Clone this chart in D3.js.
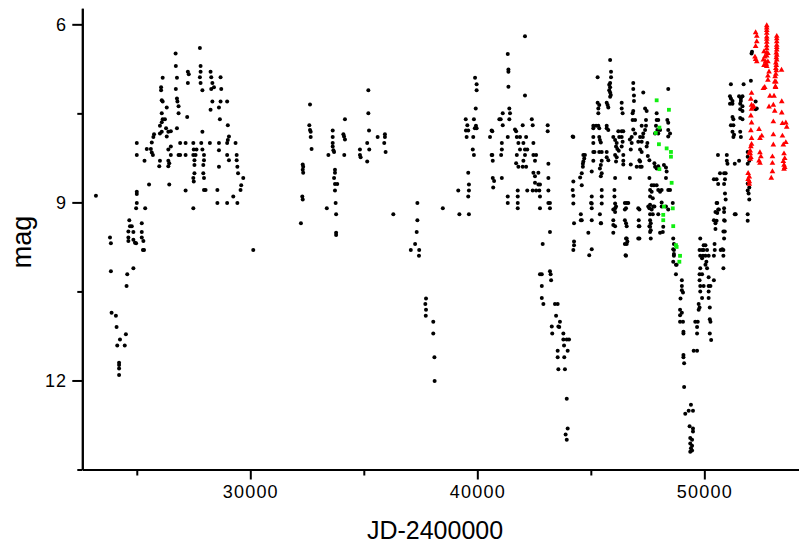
<!DOCTYPE html>
<html><head><meta charset="utf-8">
<script src="https://cdn.jsdelivr.net/npm/d3@7"></script>
<style>body{margin:0;background:#fff}svg{display:block}</style>
</head><body><svg id="c" width="799" height="548"></svg>
<script>
// ---- data: [JD-2400000, mag] ----
const blackPoints = [
[23200,8.89],
[25000,8.00],[25000,8.20],[25000,8.82],[25000,8.86],[25340,8.30],[25540,8.70],[25440,8.10],[25620,8.10],[25660,8.16],[25710,8.20],[25730,7.90],[25760,7.85],[25660,7.99],[25990,8.39],[26020,8.30],
[26140,6.90],[26070,7.06],[26070,7.11],[26100,7.28],[26140,7.30],[26320,7.40],[26100,7.50],[26140,7.60],[26100,7.65],[26240,7.60],[26020,7.71],[26100,7.81],[26290,7.75],[26020,7.84],[26320,7.89],[26390,7.81],[26500,7.80],[26500,8.06],[26500,8.20],[26390,8.11],[26390,8.30],[26430,8.34],[26390,8.39],[26430,8.70],
[26720,6.70],[26710,6.49],[26770,6.90],[26720,7.09],[26770,7.25],[26790,7.30],[26840,7.38],[26840,7.50],[26770,7.75],[26910,8.00],[26910,8.20],[26840,8.20],[27150,8.20],[27150,8.00],[27150,8.80],
[27250,6.80],[27290,6.84],[27250,6.99],[27220,7.56],
[27490,8.00],[27510,8.11],[27490,8.20],[27540,8.29],[27540,8.37],[27540,8.51],[27490,8.59],[27510,8.65],[27630,8.11],[27590,8.20],
[27780,6.40],[27810,6.70],[27810,6.80],[27780,6.89],[27810,6.99],[27890,7.11],[27890,7.81],[27840,8.00],[27890,8.11],[27960,8.20],[27960,8.29],[27930,8.37],[27930,8.51],[27960,8.59],[27960,8.79],[28030,8.79],
[28250,6.80],[28280,6.89],[28330,6.99],[28280,7.09],[28400,7.06],[28330,7.30],[28250,7.44],[28220,8.00],
[28620,7.40],[28690,7.30],[28690,6.89],[28720,7.09],[28660,7.60],[28620,8.00],[28620,8.12],[28620,8.40],[28550,8.79],
[28980,7.30],[29010,7.70],[29060,7.89],[29010,7.95],[28980,8.00],[28980,8.20],[29060,8.29],
[29350,8.00],[29400,8.20],[29400,8.29],[29430,8.40],[29460,8.51],[29600,8.71],[29570,8.79],[29690,8.59],[29250,8.90],
[25000,9.01],[24970,9.10],[25370,9.10],[27490,9.10],[28550,9.01],[28980,9.01],[29430,9.01],[30130,9.80],
[23820,9.59],[23860,9.69],[23860,10.16],[23890,10.86],[24080,10.91],[24110,11.10],[24520,11.22],[24260,11.31],[24140,11.41],[24470,11.41],[24220,11.70],[24220,11.74],[24220,11.80],[24220,11.91],
[24550,10.41],[24580,10.21],[24850,10.11],
[24670,9.30],[24700,9.40],[24630,9.49],[24850,9.50],[24630,9.59],[24630,9.65],[24850,9.63],[24920,9.68],[24970,9.69],[24780,9.40],
[25220,9.35],[25220,9.50],[25220,9.59],[25290,9.65],[25320,9.80],[25270,9.80],
[32630,7.35],[32600,7.70],[32630,7.78],[32660,7.81],[32660,7.90],[32700,8.10],
[32310,8.36],[32330,8.40],[32310,8.45],[32330,8.50],[32290,8.90],[32310,8.95],[32230,9.35],
[33370,9.10],[33780,9.20],[33780,9.51],[33780,9.55],
[33630,7.79],[33630,7.90],[33630,8.00],[33630,8.06],[33660,8.12],[33690,8.15],[33440,8.20],
[33730,8.45],[33730,8.50],[33690,8.59],[33730,8.69],[33830,8.69],[33730,8.80],[33760,9.01],
[34170,7.60],[34100,7.85],[34130,7.89],[34170,7.94],[34140,8.20],
[34830,8.11],[34830,8.20],[34860,8.24],
[35200,7.11],[35200,7.50],[35230,7.79],[35150,8.00],[35240,8.11],[35150,8.31],
[35610,7.90],[35930,7.85],[35930,7.90],[35900,8.00],[35960,8.15],
[36300,9.20],
[37360,9.01],[37360,9.30],[37330,9.50],[37260,9.70],[37070,9.80],[37440,9.80],[37430,9.90],
[37740,10.62],[37710,10.71],[37740,10.81],[37730,10.91],[38060,11.01],[38060,11.21],[38110,11.61],[38120,12.01],
[38480,9.10],
[39210,9.20],[39160,8.80],[39600,8.50],[39630,8.70],[39630,8.80],[39600,8.90],[39630,9.20],
[39490,7.60],[39560,7.70],[39500,7.79],[39600,7.79],[39530,7.90],
[39900,6.90],[39970,7.01],[39970,7.11],[39930,7.42],[39850,7.60],[39940,7.71],[39970,7.75],[39820,7.90],[39800,8.11],[39850,8.20],[39890,7.75],
[40630,7.79],[40560,7.90],[40630,8.20],[40680,8.30],[40680,8.59],[40740,8.64],[40700,8.75],[40970,7.60],
[41340,6.50],[41370,6.76],[41370,6.80],[41370,7.05],[42100,6.20],[42100,7.20],
[41410,7.42],[41120,7.50],[41440,7.50],[41030,7.60],[41410,7.60],[41120,7.70],[40660,7.80],[41340,7.90],[41080,8.00],[41080,8.11],[41050,8.20],[40660,8.20],[41080,8.59],
[41340,8.90],[41340,9.01],[41780,8.80],[41780,8.90],[41780,9.01],[41780,9.10],
[41660,7.77],[41710,7.80],[41740,7.90],[41880,7.90],[42150,7.90],[42000,7.70],[42400,7.60],[42440,7.70],
[41810,8.00],[42030,8.00],[42100,8.11],[41880,8.11],[42200,8.11],
[41740,8.20],[42100,8.20],[41710,8.34],[41810,8.40],[42000,8.40],[42150,8.40],[42030,8.30],
[42470,8.00],[42470,8.20],[42590,8.20],[42540,8.30],[42470,8.50],[42690,8.50],[42540,8.56],[42540,8.67],[42690,8.70],[42760,8.70],[42440,8.80],[42590,8.80],[42730,8.80],[42200,8.80],[42760,8.90],[42760,9.10],
[43100,7.70],[43100,7.80],[43130,8.35],[43130,8.59],[43130,8.80],[43130,9.01],[43200,9.01],[43200,9.10],[43200,9.50],[42880,9.70],
[42760,10.21],[42840,10.21],[43200,10.16],[43230,10.21],[43250,10.31],[42840,10.41],[42840,10.61],[42910,10.71],[43420,10.71],[43540,10.71],[43470,10.91],[43280,11.09],[43570,11.09],[43610,11.10],[43640,11.01],[43300,11.21],[43790,11.21],[43790,11.31],[43940,11.31],[44040,11.31],[43820,11.41],[43540,11.50],[43980,11.50],[43540,11.61],[43830,11.61],[43570,11.81],[43860,11.81],[43940,12.31],[43980,12.81],[43890,12.91],[43940,13.00],
[44200,7.89],[44230,7.90],
[45300,6.89],[45850,6.60],[45890,6.80],[45890,6.89],[45850,6.99],[45810,7.02],[45850,7.06],[45810,7.11],[45850,7.15],[45880,7.19],[45850,7.22],
[46870,6.99],[46870,7.09],[46900,7.20],[46900,7.29],[47310,7.15],[48410,7.09],
[45300,7.32],[45370,7.36],[45330,7.42],[45330,7.50],[45700,7.32],[45740,7.36],[45770,7.40],
[46360,7.32],[46360,7.42],[46400,7.50],[46870,7.46],[46840,7.50],[47390,7.42],[47460,7.46],[47900,7.50],
[46840,7.61],[46950,7.61],[47430,7.61],[47900,7.61],[47970,7.61],[48370,7.61],[48410,7.66],
[45110,7.71],[45230,7.71],[45330,7.71],[45110,7.75],[45370,7.75],[45700,7.71],[45700,7.75],[45770,7.78],
[46210,7.80],[46360,7.80],[46430,7.80],[46870,7.77],[46950,7.84],[46800,7.90],
[47240,7.71],[47430,7.71],[47390,7.78],[47310,7.84],[47870,7.71],[47930,7.78],[48050,7.78],[47830,7.84],[47970,7.84],
[48410,7.78],[48490,7.84],[48410,7.89],
[45110,7.90],[45370,7.90],[45400,7.95],[45440,7.99],
[45990,7.90],[46250,7.90],[46070,7.95],[46140,8.00],[46110,8.06],[46170,8.10],[46230,8.13],
[46360,7.90],[46400,7.98],[46360,8.06],[46720,7.94],[46800,8.00],[46760,8.11],
[47170,7.90],[47090,7.98],[47240,7.98],[47290,7.90],[47490,8.00],[47460,8.06],[47170,8.11],[47240,8.15],
[45110,8.00],[45110,8.15],[45160,8.15],[45370,8.15],[45480,8.15],[45700,8.15],
[44670,8.20],[44740,8.20],[44710,8.26],[44670,8.31],[44650,8.35],[44650,8.40],
[45110,8.30],[45040,8.48],[45480,8.30],[45440,8.37],[45400,8.43],[45700,8.24],[45770,8.29],
[46070,8.20],[46140,8.24],[46110,8.31],[46430,8.20],[46430,8.30],[46430,8.36],[46760,8.36],
[47140,8.29],[47170,8.31],[47020,8.40],[47170,8.40],[47240,8.40],[47510,8.22],[47580,8.29],
[47800,8.34],[47830,8.40],[47900,8.43],[47970,8.39],[48220,8.37],[48310,8.41],[48340,8.48],
[44600,8.51],[44530,8.58],[45480,8.51],[45440,8.56],
[44230,8.65],[44200,8.79],[44230,8.89],[44230,9.02],[44600,8.71],
[46070,8.59],[46720,8.59],[47580,8.59],[47680,8.71],[47780,8.71],[47900,8.71],[48310,8.59],
[45040,8.90],[45040,9.02],[45480,8.79],[45480,8.90],[45480,9.02],
[46040,8.79],[46040,8.90],[46070,9.02],[46110,9.07],[45990,9.12],
[46500,9.01],[46580,9.01],[46650,9.01],[46500,9.12],[47140,9.12],
[47610,8.79],[47680,8.82],[47610,8.90],[47730,8.93],[47610,9.04],[47750,9.07],[47580,9.10],[47680,9.12],
[47970,8.79],[48050,8.82],[48120,8.79],[48410,8.79],[48490,8.79],[48120,9.00],[48120,9.07],[47970,9.20],[48310,9.07],[48410,9.12],
[44560,9.20],[44600,9.30],[44260,9.35],[44560,9.30],[45040,9.30],[45450,9.35],[45990,9.30],[45990,9.38],
[46500,9.30],[46550,9.35],[46580,9.40],[47110,9.30],[47110,9.40],
[47610,9.30],[47640,9.35],[47610,9.41],[47640,9.47],[48050,9.51],[48190,9.41],
[44890,9.51],[45990,9.51],[46580,9.61],[46610,9.66],[46580,9.70],[47140,9.61],[47640,9.61],
[48630,9.61],[48660,9.70],[48630,9.79],[48660,9.87],
[44260,9.66],[44260,9.72],[44230,9.80],[45040,9.79],[44930,9.89],[46530,9.89],[48630,10.00],[48750,10.05],
[45010,9.01],[45040,9.10],[45400,9.20],[45440,9.35],[46070,9.10],[46070,9.16],[46070,9.40],
[46550,9.10],[46550,9.61],[46500,9.70],[46550,9.90],[47090,9.10],[47140,9.40],[47090,9.61],
[47530,9.07],[47610,9.20],[47730,9.20],[47580,9.40],[47610,9.50],[47800,9.07],[48170,9.50],[48610,9.01],
[48660,9.80],[48660,9.90],[48780,10.05],[48750,10.21],
[49010,10.31],[49010,10.41],[49010,10.48],[49060,10.52],[48950,10.62],
[48930,10.81],[49010,10.86],[48930,10.90],[48930,11.01],[49060,11.01],[49080,11.18],[49080,11.21],
[49080,11.57],[49080,11.61],[49110,11.71],[49110,12.11],
[49410,12.41],[49310,12.51],[49500,12.51],[49160,12.56],[49350,12.77],[49500,12.81],[49500,12.86],
[49380,12.97],[49460,13.00],[49380,13.06],[49460,13.10],[49410,13.14],[49460,13.18],[49380,13.20],
[49820,9.61],[49790,9.80],[49900,9.80],[49970,9.80],[50120,9.80],
[49820,9.90],[49900,9.94],[50050,9.90],[50190,9.90],[50090,10.00],[50050,10.05],[50120,10.11],[49820,10.11],
[49790,10.21],[49900,10.21],[50190,10.26],[50420,10.31],[49790,10.31],
[49820,10.41],[49970,10.41],[50190,10.41],[50270,10.41],
[49820,10.50],[49900,10.61],[50190,10.50],[50190,10.61],
[49750,10.71],[49790,10.77],[49750,10.81],[50240,10.77],
[49600,11.01],[49710,11.01],[49680,11.10],[49680,11.21],[50240,10.97],[50270,11.01],[50240,11.21],[50300,11.32],
[49530,11.50],[49680,11.50],
[49970,9.72],[50050,9.72],[49940,9.90],[50720,9.80],
[50450,9.70],[50460,9.80],[50420,9.90],[50840,9.80],[50840,9.90],[50840,10.11],
[50840,9.49],[50870,9.61],[50570,9.01],[50640,9.12],[50570,9.18],[50540,9.31],[50490,9.45],
[50870,9.10],[50900,9.31],[51380,9.20],[51910,9.20],[51910,9.31],
[51170,7.01],[51730,7.01],[52050,6.95],
[51130,7.21],[51170,7.25],[51240,7.29],[51240,7.34],[51130,7.34],
[51530,7.21],[51610,7.25],[51680,7.21],[51610,7.29],[51580,7.34],[51680,7.38],[51580,7.43],[51680,7.46],
[52260,7.30],[52310,7.42],[52260,7.43],
[51240,7.56],[51280,7.60],[51170,7.70],[51280,7.70],[51240,7.81],[51310,7.86],[51280,7.90],
[51580,7.58],[51680,7.60],[51580,7.81],[51610,7.90],
[50600,8.20],[50990,8.20],[50990,8.30],[51020,8.35],[51340,8.35],[51530,8.30],
[51910,8.15],[51910,8.23],[51980,8.30],[51910,8.35],
[50870,8.51],[50940,8.51],[50690,8.51],[50910,8.61],[50420,8.61],[50540,8.61],[50610,8.69],[50870,8.69],
[51910,8.68],[51980,8.75],[51910,8.80],[51950,8.85],[51980,8.95],[50910,8.85],[50940,8.95],
[50540,9.01],[50610,9.12],[50490,9.16],[50420,9.30],[50490,9.35],[50870,9.16],[50870,9.30],[50900,9.49],[51340,9.20],
[50790,9.79],[52100,6.46],[52080,6.49]
];
const greenPoints = [
[47900,7.28],[48440,7.44],[48020,7.74],[47860,7.83],[48000,8.02],[48340,8.09],[48530,8.15],[48530,8.23],[48020,8.44],[48560,8.67],
[48220,9.07],[48610,9.10],[48190,9.21],[48190,9.30],[48630,9.40],[48750,9.72],[48780,9.75],[48930,9.90],[48900,10.00]
];
const redPoints = [
[52750,6.02],[52750,6.06],[52750,6.10],[52750,6.15],[52750,6.21],[52750,6.25],[52750,6.30],[52750,6.36],[52750,6.41],[52750,6.48],[52750,6.53],
[52800,6.63],[52730,6.67],[52750,6.71],[52850,6.80],[52800,6.87],[52800,6.94],[52660,7.06],[52600,7.08],
[53190,6.20],[53190,6.24],[53190,6.29],[53190,6.35],[53190,6.39],[53190,6.43],[53170,6.48],[53190,6.52],[53170,6.56],[53190,6.60],[53150,6.65],[53170,6.69],[53150,6.74],[53170,6.78],[53150,6.84],[53120,6.88],[53150,6.97],[53130,7.05],
[53400,6.77],
[52260,6.14],[52310,6.20],[52310,6.29],[52260,6.37],[52230,6.55],[52260,6.59],[52310,6.63],
[52630,6.46],[52660,6.55],[52600,6.60],[52700,6.63],[52630,6.69],[52800,6.49],
[53100,6.97],[53140,7.06],
[52890,7.21],[53070,7.21],[52850,7.39],[53040,7.36],[53100,7.46],[53410,7.30],[53410,7.49],
[52080,7.16],[52050,7.26],[52080,7.36],[52130,7.40],[52080,7.43],[52050,7.54],[52080,7.66],[52170,7.38],
[52410,7.77],[52530,7.88],[52450,7.92],
[53040,7.64],[53040,7.86],[53440,7.67],[53590,7.66],[53630,7.73],[53440,7.88],
[52050,7.79],[52080,7.92],[52080,8.02],[52050,8.06],[52020,8.13],[52020,8.18],
[52450,8.16],[52490,8.23],[52410,8.30],[52450,8.34],
[53040,8.03],[53000,8.23],[53480,8.03],[53510,8.18],[53540,8.26],[53480,8.31],[53510,8.37],[53540,8.41],[53510,8.44],[53590,7.99],
[53000,8.34],[53000,8.48],[52950,8.59],
[51980,8.17],[52050,8.24],[52020,8.27],
[51930,8.51],[51980,8.57],[51930,8.61],[51980,8.65],[51980,8.69]
];
const xMajorTicks = [30000, 40000, 50000];
const xMinorTicks = [25000, 35000, 45000];
const yMajorTicks = [6, 9, 12];
const yMinorTicks = [7.5, 10.5, 13.5];
const xTitle = "JD-2400000";
const yTitle = "mag";

// ---- chart ----
const svg = d3.select('#c');
const x = d3.scaleLinear().domain([22600, 54170]).range([82.3, 799]);
const y = d3.scaleLinear().domain([5.73, 13.5]).range([8.3, 469.5]);
const X0 = 469.5, Y0 = 82.3;

const axisStyle = g => {
  g.selectAll('path.domain').attr('stroke', '#000').attr('stroke-width', 2);
  g.selectAll('.tick line').attr('stroke', '#000').attr('stroke-width', 2);
  g.selectAll('.tick text').attr('fill', '#000')
    .attr('font-family', '"Liberation Sans", Arial, sans-serif').attr('font-size', 18)
    .attr('letter-spacing', '1.2px');
};

// minor ticks
svg.append('g').attr('transform', `translate(0,${X0})`)
  .call(d3.axisBottom(x).tickValues(xMinorTicks).tickSize(6).tickSizeOuter(0).tickFormat(''))
  .call(axisStyle);
svg.append('g').attr('transform', `translate(${Y0},0)`)
  .call(d3.axisLeft(y).tickValues(yMinorTicks).tickSize(5).tickSizeOuter(0).tickFormat(''))
  .call(axisStyle);
// major ticks
svg.append('g').attr('transform', `translate(0,${X0})`)
  .call(d3.axisBottom(x).tickValues(xMajorTicks).tickSize(10).tickPadding(6).tickSizeOuter(0).tickFormat(d3.format('d')))
  .call(axisStyle);
svg.append('g').attr('transform', `translate(${Y0},0)`)
  .call(d3.axisLeft(y).tickValues(yMajorTicks).tickSize(10).tickPadding(5).tickSizeOuter(0).tickFormat(d3.format('d')))
  .call(axisStyle);

// titles
svg.append('text').attr('x', 435).attr('y', 539).attr('text-anchor', 'middle')
  .attr('font-family', '"Liberation Sans", Arial, sans-serif').attr('font-size', 25).text(xTitle);
svg.append('text').attr('transform', 'translate(31,242) rotate(-90)').attr('text-anchor', 'middle')
  .attr('font-family', '"Liberation Sans", Arial, sans-serif').attr('font-size', 27).text(yTitle);

// marks
const plot = svg.append('g');
plot.selectAll('circle.b').data(blackPoints).join('circle').attr('class', 'b')
  .attr('cx', d => x(d[0])).attr('cy', d => y(d[1])).attr('r', 2).attr('fill', '#000');
plot.selectAll('rect.g').data(greenPoints).join('rect').attr('class', 'g')
  .attr('x', d => x(d[0]) - 1.9).attr('y', d => y(d[1]) - 1.9).attr('width', 3.8).attr('height', 3.8).attr('fill', '#11ee11');
const tri = d3.symbol().type(d3.symbolTriangle).size(14);
plot.selectAll('path.r').data(redPoints).join('path').attr('class', 'r')
  .attr('transform', d => `translate(${x(d[0])},${y(d[1])})`).attr('d', tri).attr('fill', '#ff0000');
</script></body></html>
